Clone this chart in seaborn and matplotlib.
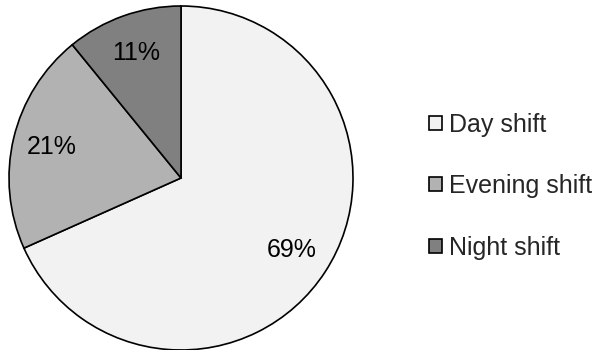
import matplotlib
matplotlib.use("Agg")
import matplotlib.pyplot as plt
import seaborn as sns

shifts = ["Day shift", "Evening shift", "Night shift"]
shares = [69, 21, 11]
colors = ["#f2f2f2", "#b2b2b2", "#808080"]

sns.set_theme(style="white")
plt.rcParams["font.family"] = ["Liberation Sans", "DejaVu Sans"]

fig = plt.figure(figsize=(6.07, 3.5), dpi=100)
# pie centred at (181, 178) px with radius ~172 px
ax = fig.add_axes([9 / 607, 0 / 350, 344 / 607, 344 / 350])
total = sum(shares)
wedges, texts, autotexts = ax.pie(
    shares,
    colors=colors,
    startangle=90,
    counterclock=False,
    autopct=lambda p: f"{round(p * total / 100)}%",
    pctdistance=0.77,
    wedgeprops=dict(edgecolor="black", linewidth=1.2),
    textprops=dict(fontsize=18, color="black"),
)
ax.set_xlim(-1.0, 1.0)
ax.set_ylim(-1.0, 1.0)
ax.set_aspect("equal")

fig.legend(
    wedges, shifts,
    loc="center left", bbox_to_anchor=(429 / 607, 1 - 186 / 350),
    frameon=False, fontsize=18,
    handlelength=0.5, handleheight=0.5, handletextpad=0.3,
    labelspacing=1.5, borderaxespad=0, borderpad=0,
)
for h in fig.legends[0].legend_handles:
    h.set_linewidth(1.2)

fig.savefig("out.png", dpi=100)
